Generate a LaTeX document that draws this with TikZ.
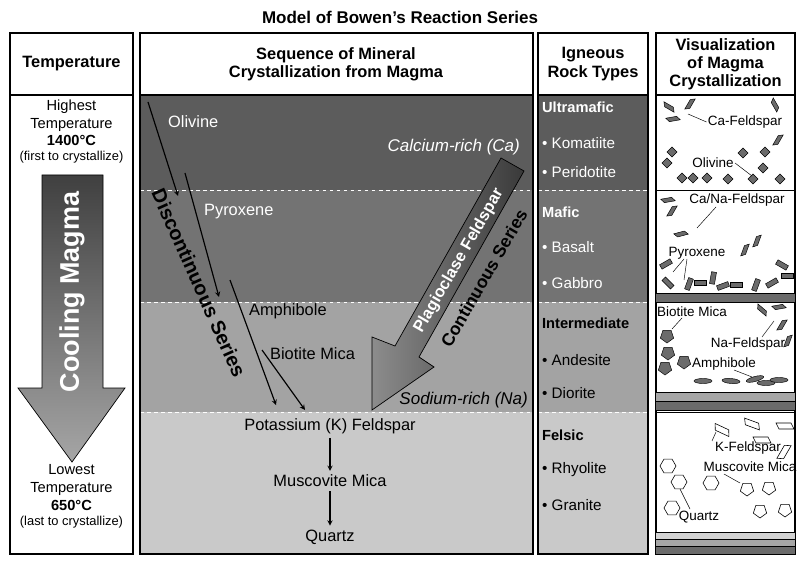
\documentclass[tikz,border=0pt]{standalone}
\usepackage{fontspec}
\setmainfont{Liberation Sans}
\usetikzlibrary{calc}
\definecolor{bandA}{gray}{0.36}
\definecolor{bandB}{gray}{0.45}
\definecolor{bandC}{gray}{0.64}
\definecolor{bandD}{gray}{0.79}
\definecolor{crys}{gray}{0.42}
\tikzset{
  box/.style={draw=black,line width=1.2pt},
  hd/.style={font=\bfseries\fontsize{14}{15.5}\selectfont,align=center},
  txt/.style={font=\fontsize{14}{16}\selectfont,align=center},
  ttxt/.style={font=\fontsize{12.5}{15}\selectfont,align=center},
  wtxt/.style={txt,text=white},
  rock/.style={font=\bfseries\fontsize{12.5}{14}\selectfont,anchor=west},
  item/.style={font=\fontsize{13}{14}\selectfont,anchor=west},
  lbl/.style={font=\fontsize{11.5}{13}\selectfont,inner sep=1pt},
  sep/.style={white,dashed,line width=0.8pt},
  seq/.style={-stealth,line width=1pt},
  xtal/.style={fill=crys,draw=black,line width=0.4pt},
  otl/.style={fill=white,draw=black,line width=0.5pt},
}
\begin{document}
\begin{tikzpicture}[x=0.03cm,y=-0.03cm]
\useasboundingbox (0,0) rectangle (800,564);
\node[font=\bfseries\fontsize{14.5}{16}\selectfont] (title) at (400,17) {Model of Bowen's Reaction Series};
% bands
\fill[bandA] (140,95) rectangle (533,190);
\fill[bandB] (140,190) rectangle (533,302);
\fill[bandC] (140,302) rectangle (533,412);
\fill[bandD] (140,412) rectangle (533,554);
\fill[bandA] (538,95) rectangle (648,190);
\fill[bandB] (538,190) rectangle (648,302);
\fill[bandC] (538,302) rectangle (648,412);
\fill[bandD] (538,412) rectangle (648,554);
\foreach \y in {190,302,412}{
  \draw[sep] (140,\y) -- (533,\y);
  \draw[sep] (538,\y) -- (648,\y);
}
% frames
\foreach \a/\b in {10/133,140/533,538/648,656/795}{
  \draw[box] (\a,33) rectangle (\b,554);
  \draw[box] (\a,33) rectangle (\b,95);
}
\node[hd] (hT) at (71.5,64) {Temperature};
\node[hd] (hS) at (336,64) {Sequence of Mineral\\Crystallization from Magma};
\node[hd] (hR) at (593,64) {Igneous\\Rock Types};
\node[hd] (hV) at (725.5,64) {Visualization\\of Magma\\Crystallization};
% temperature column
\node[ttxt] (hiT) at (71.5,116) {Highest\\Temperature};
\node[ttxt,font=\bfseries\fontsize{12.5}{14}\selectfont] (hiC) at (71.5,140) {1400°C};
\node[ttxt,font=\fontsize{11}{13}\selectfont] (hiN) at (71.5,157) {(first to crystallize)};
\shade[top color=gray!50!black,bottom color=gray!70,draw=black,line width=0.6pt]
  (42,175) -- (103,175) -- (103,388) -- (125,388) -- (72,462) -- (18,388) -- (42,388) -- cycle;
\node[rotate=90,text=white,font=\bfseries\fontsize{23}{26}\selectfont] (cool) at (72,292) {Cooling Magma};
\node[ttxt] (loT) at (71.5,480) {Lowest\\Temperature};
\node[ttxt,font=\bfseries\fontsize{12.5}{14}\selectfont] (loC) at (71.5,505) {650°C};
\node[ttxt,font=\fontsize{11}{13}\selectfont] (loN) at (71.5,522) {(last to crystallize)};
% discontinuous series
\coordinate (d1a) at (148,102); \coordinate (d1b) at (178,196);
\coordinate (d2a) at (185,173); \coordinate (d2b) at (219,297);
\coordinate (d3a) at (230,280); \coordinate (d3b) at (276,405);
\coordinate (d4a) at (262,350); \coordinate (d4b) at (305,410);
\draw[seq] (d1a) -- (d1b);
\draw[seq] (d2a) -- (d2b);
\draw[seq] (d3a) -- (d3b);
\draw[seq] (d4a) -- (d4b);
\node[wtxt,anchor=west] (oli) at (164,122) {Olivine};
\node[wtxt,anchor=west] (pyr) at (200,212) {Pyroxene};
\node[txt,anchor=west] (amp) at (245,311) {Amphibole};
\node[txt,anchor=west] (bio) at (266,354) {Biotite Mica};
\node[rotate=-66,font=\bfseries\fontsize{17}{19}\selectfont] (disc) at (199,283) {Discontinuous Series};
% continuous series
\node[wtxt,font=\itshape\fontsize{14.5}{16}\selectfont,anchor=east] (ca) at (524,147) {Calcium-rich (Ca)};
\shade[left color=gray!90,right color=gray!45!black,draw=black,line width=0.6pt]
  (501,158) -- (524,171) -- (419,357) -- (434,367) -- (372,410) -- (372,337) -- (395,346) -- cycle;
\node[rotate=60,text=white,font=\bfseries\fontsize{14}{16}\selectfont] (plag) at (459,261) {Plagioclase Feldspar};
\node[rotate=60,font=\bfseries\fontsize{15}{17}\selectfont] (cont) at (484,278) {Continuous Series};
\node[font=\itshape\fontsize{14.5}{16}\selectfont,anchor=east] (na) at (532,400) {Sodium-rich (Na)};
% common path
\node[txt] (kf) at (330,426) {Potassium (K) Feldspar};
\node[txt] (mus) at (330,481) {Muscovite Mica};
\node[txt] (qtz) at (330,537) {Quartz};
\draw[seq] (kf) -- (mus);
\draw[seq] (mus) -- (qtz);
% rock types
\node[rock,text=white] (um) at (538,107) {Ultramafic};
\node[item,text=white] (kom) at (538,143) {• Komatiite};
\node[item,text=white] (per) at (538,172) {• Peridotite};
\node[rock,text=white] (maf) at (538,212) {Mafic};
\node[item,text=white] (bas) at (538,247) {• Basalt};
\node[item,text=white] (gab) at (538,283) {• Gabbro};
\node[rock] (int) at (538,323) {Intermediate};
\node[item] (and) at (538,360) {• Andesite};
\node[item] (dio) at (538,393) {• Diorite};
\node[rock] (fel) at (538,435) {Felsic};
\node[item] (rhy) at (538,470) {• Rhyolite};
\node[item] (gra) at (538,505) {• Granite};
% visualization boxes
\fill[crys] (656,293) rectangle (795,302);
\fill[gray!70] (656,392) rectangle (795,401);
\fill[crys] (656,401) rectangle (795,410);
\fill[gray!35] (656,532) rectangle (795,539);
\fill[gray!70] (656,539) rectangle (795,546);
\fill[crys] (656,546) rectangle (795,554);
\foreach \y in {190,293,302,392,401,410,412,532,539,546}
  \draw[line width=0.8pt] (656,\y) -- (795,\y);
% box 1
\foreach \x/\y/\r in {669/107/-30,690/104/60,673/119/10,775/105/-60,778/140/60}
  \draw[xtal,shift={(\x,\y)},rotate=\r] (-7,-2) -- (4,-2) -- (7,2) -- (-4,2) -- cycle;
\foreach \x/\y in {672/152,667/163,682/178,693/178,707/178,728/179,743/153,753/179,765/152,763/168,780/179}
  \draw[xtal] (\x,\y-5) -- (\x+5,\y) -- (\x,\y+5) -- (\x-5,\y) -- cycle;
\node[lbl] (caf) at (745,122) {Ca-Feldspar};
\draw[line width=0.4pt] (caf.west) -- (688,114);
\node[lbl] (ol) at (713,163) {Olivine};
\draw[line width=0.4pt] (ol.east) -- (752,176);
% box 2
\foreach \x/\y/\r in {668/200/10,672/211/60,681/234/15,745/250/70,757/241/70}
  \draw[xtal,shift={(\x,\y)},rotate=\r] (-7,-2) -- (4,-2) -- (7,2) -- (-4,2) -- cycle;
\foreach \x/\y/\r in {666/264/30,668/283/-45,689/284/70,700/283/0,713/278/80,723/286/20,736/285/0,756/285/70,772/283/30,782/265/-30,787/276/0}
  \draw[xtal,shift={(\x,\y)},rotate=\r] (-6,-2.5) rectangle (6,2.5);
\node[lbl] (cnf) at (737,200) {Ca/Na-Feldspar};
\draw[line width=0.4pt] (716,207) -- (697,228);
\node[lbl] (px) at (697,253) {Pyroxene};
\draw[line width=0.4pt] (684,259) -- (673,272);
\draw[line width=0.4pt] (687,259) -- (684,280);
% box 3
\foreach \x/\y in {667/336,668/353,665/368,684/362}
  \draw[xtal,shift={(\x,\y)}] (90:7) -- (162:7) -- (234:7) -- (306:7) -- (18:7) -- cycle;
\foreach \x/\y/\r in {762/310/-40,779/307/10,782/325/60,788/341/70}
  \draw[xtal,shift={(\x,\y)},rotate=\r] (-7,-2) -- (4,-2) -- (7,2) -- (-4,2) -- cycle;
\foreach \x/\y/\r in {703/381/0,731/381/-5,755/379/15,766/383/0,779/380/0}
  \draw[xtal] (\x,\y) ellipse[x radius=9,y radius=2.5,rotate=\r];
\node[lbl] (bm) at (692,312) {Biotite Mica};
\draw[line width=0.4pt] (682,318) -- (672,329);
\node[lbl] (naf) at (748,344) {Na-Feldspar};
\draw[line width=0.4pt] (762,337) -- (774,321);
\node[lbl] (amph) at (724,364) {Amphibole};
\draw[line width=0.4pt] (734,370) -- (752,377);
% box 4
\foreach \x/\y/\r in {722/430/-25,752/424/-20,762/440/0,785/426/0,784/452/60}
  \draw[otl,shift={(\x,\y)},rotate=\r] (-9,-3) -- (6,-3) -- (9,3) -- (-6,3) -- cycle;
\foreach \x/\y in {668/466,679/482,711/483,672/508}
  \draw[otl,shift={(\x,\y)}] (0:8) -- (60:8) -- (120:8) -- (180:8) -- (240:8) -- (300:8) -- cycle;
\foreach \x/\y in {747/489,769/488,760/511,785/510}
  \draw[otl,shift={(\x,\y)}] (90:7) -- (162:7) -- (234:7) -- (306:7) -- (18:7) -- cycle;
\node[lbl] (kfs) at (748,448) {K-Feldspar};
\draw[line width=0.4pt] (712,441) -- (716,432);
\node[lbl] (mm) at (750,467) {Muscovite Mica};
\draw[line width=0.4pt] (724,474) -- (740,483);
\node[lbl] (qz) at (699,517) {Quartz};
\draw[line width=0.4pt] (690,509) -- (680,489);
\end{tikzpicture}
\end{document}
